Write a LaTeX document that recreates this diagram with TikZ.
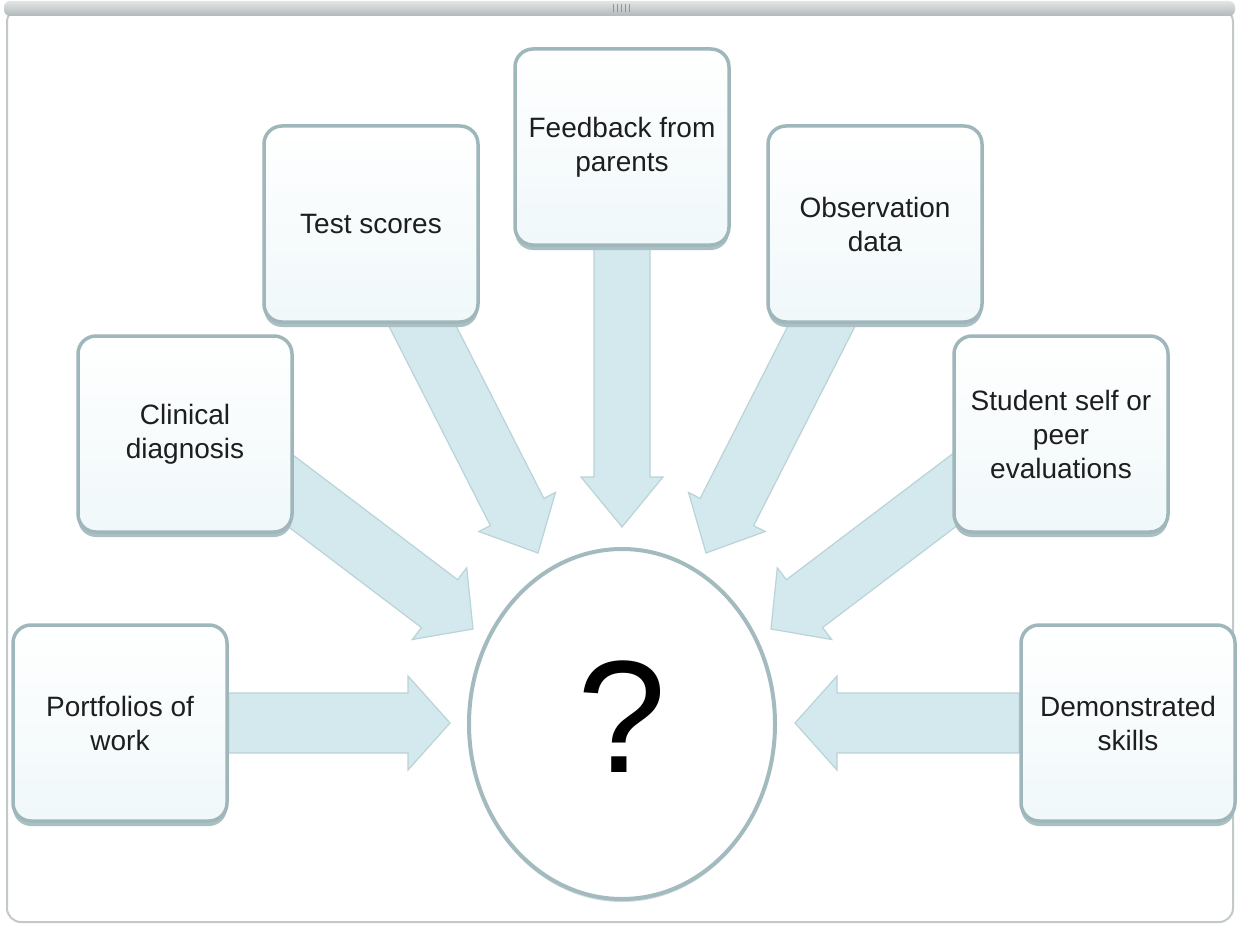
\documentclass[tikz,border=0pt]{standalone}
\usepackage{fontspec}
\setmainfont{Liberation Sans}
\usetikzlibrary{calc,shapes.geometric,shadows}
\pgfdeclarelayer{back}
\pgfsetlayers{back,main}

\definecolor{boxline}{HTML}{9FB7BB}
\definecolor{boxshadow}{HTML}{AAC0C3}
\definecolor{boxbottom}{HTML}{F0F8FA}
\definecolor{arrowfill}{HTML}{D3E9EE}
\definecolor{arrowedge}{HTML}{BAD3D8}
\definecolor{ringline}{HTML}{A3BBBE}
\definecolor{framegray}{HTML}{C3C9CB}
\definecolor{bartop}{HTML}{E2E5E6}
\definecolor{barbottom}{HTML}{B1B8BA}
\definecolor{gripgray}{HTML}{8C9496}
\definecolor{inktext}{HTML}{1E1E1E}

% block arrow: #1 start, #2 tip, #3 shaft half-width, #4 head half-width, #5 head length
\newcommand\blockarrow[5]{%
  \coordinate (#2-base) at ($(#2)!#5!(#1)$);
  \filldraw[arrowbody]
    ($(#1)!#3!90:(#2)$) -- ($(#2-base)!#3!90:(#2)$) -- ($(#2-base)!#4!90:(#2)$)
    -- (#2)
    -- ($(#2-base)!#4!-90:(#2)$) -- ($(#2-base)!#3!-90:(#2)$) -- ($(#1)!#3!-90:(#2)$)
    -- cycle;}

\tikzset{
  sourcebox/.style={draw=boxline, line width=3.5pt, rounded corners=18pt,
    top color=white, bottom color=boxbottom,
    drop shadow={shadow xshift=0pt, shadow yshift=-5pt, fill=boxshadow, opacity=1},
    minimum width=214pt, minimum height=196pt, align=center, text=inktext,
    font=\fontsize{28}{34}\selectfont},
  arrowbody/.style={fill=arrowfill, draw=arrowedge, line width=1.2pt, line join=miter},
  centerring/.style={ellipse, draw=ringline, line width=4pt, fill=white,
    drop shadow={shadow xshift=0pt, shadow yshift=-3pt, fill=boxshadow, opacity=0.6},
    minimum width=306pt, minimum height=350pt, text=black,
    font=\fontsize{160}{160}\selectfont}
}

\begin{document}
\begin{tikzpicture}[x=1pt, y=-1pt]
  \useasboundingbox (0,0) rectangle (1239,928);
  \begin{pgfonlayer}{back}
    \fill[white] (0,0) rectangle (1239,928);
  \end{pgfonlayer}

  % window frame with its title bar and grip
  \draw[framegray, line width=2pt, rounded corners=14pt] (7,8) rectangle (1233,922);
  \shade[top color=bartop, bottom color=barbottom, rounded corners=6pt] (4,1) rectangle (1235,16);
  \foreach \gx in {613,617,621,625,629}
    \draw[gripgray, line width=1pt] (\gx,4) -- (\gx,12);

  % source boxes
  \node[sourcebox] (port) at (120,723)  {Portfolios of\\work};
  \node[sourcebox] (clin) at (185,434)  {Clinical\\diagnosis};
  \node[sourcebox] (test) at (371,224)  {Test scores};
  \node[sourcebox] (feed) at (622,147)  {Feedback from\\parents};
  \node[sourcebox] (obs)  at (875,224)  {Observation\\data};
  \node[sourcebox] (stud) at (1061,434) {Student self or\\peer\\evaluations};
  \node[sourcebox] (dem)  at (1128,723) {Demonstrated\\skills};

  % central unknown
  \node[centerring] (goal) at (622,724) {\raisebox{14pt}{?}};

  % arrow start points (hidden under the boxes) and tips
  \coordinate (s1) at (port.east);
  \coordinate (s2) at ($(clin.east)+(-28,38)$);
  \coordinate (s3) at ($(test.south)+(32,-36)$);
  \coordinate (s4) at (feed.south);
  \coordinate (s5) at ($(obs.south)+(-34,-36)$);
  \coordinate (s6) at ($(stud.west)+(26,38)$);
  \coordinate (s7) at (dem.west);

  \coordinate (t1) at (450,723);
  \coordinate (t2) at (473,629);
  \coordinate (t3) at (538,553);
  \coordinate (t4) at (622,527);
  \coordinate (t5) at (706,553);
  \coordinate (t6) at (771,629);
  \coordinate (t7) at (795,723);

  \begin{pgfonlayer}{back}
    \blockarrow{s1}{t1}{30pt}{47pt}{42pt}
    \blockarrow{s2}{t2}{30pt}{45pt}{42pt}
    \blockarrow{s3}{t3}{30pt}{43pt}{46pt}
    \blockarrow{s4}{t4}{28pt}{41pt}{50pt}
    \blockarrow{s5}{t5}{30pt}{43pt}{46pt}
    \blockarrow{s6}{t6}{30pt}{45pt}{42pt}
    \blockarrow{s7}{t7}{30pt}{47pt}{42pt}
  \end{pgfonlayer}
\end{tikzpicture}
\end{document}
